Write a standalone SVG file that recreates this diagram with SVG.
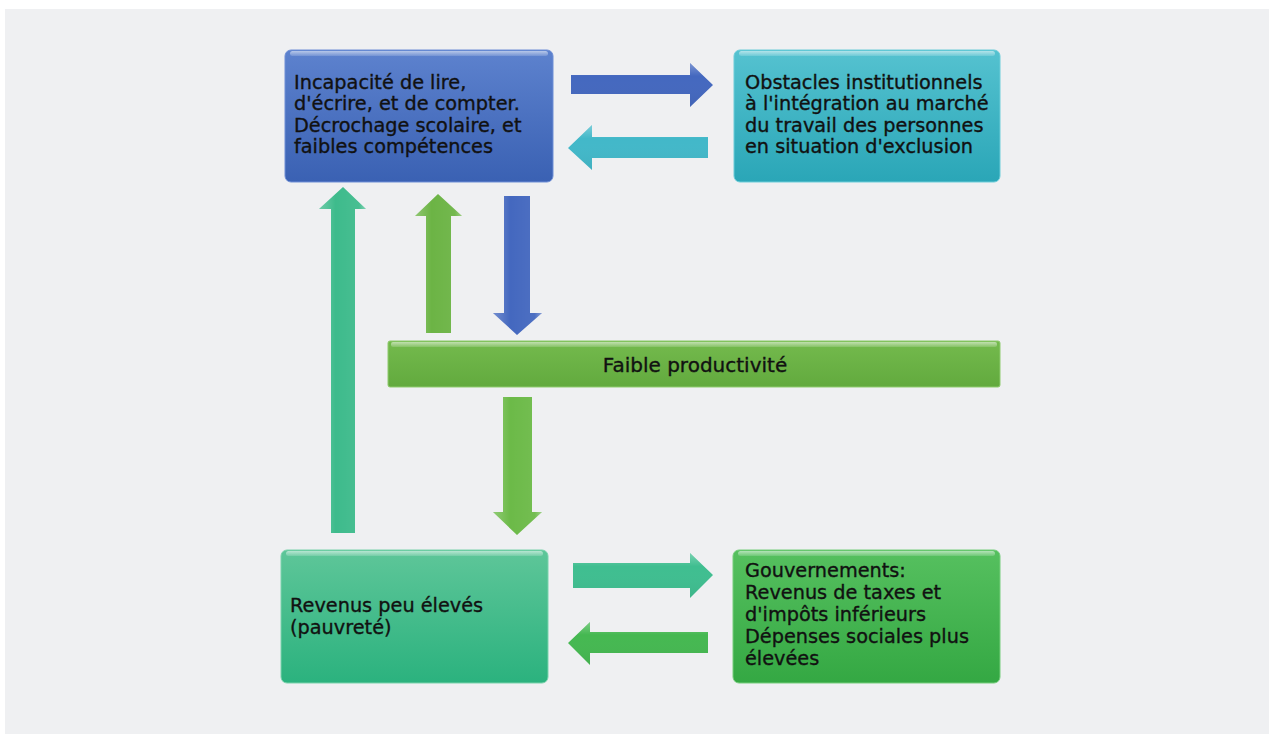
<svg xmlns="http://www.w3.org/2000/svg" width="1269" height="734" viewBox="0 0 1269 734">
<defs>
<linearGradient id="gBlue" x1="0" y1="0" x2="0" y2="1"><stop offset="0" stop-color="#5d82ce"/><stop offset="1" stop-color="#3a61b3"/></linearGradient>
<linearGradient id="gTeal" x1="0" y1="0" x2="0" y2="1"><stop offset="0" stop-color="#55c2d0"/><stop offset="1" stop-color="#2aa6b7"/></linearGradient>
<linearGradient id="gBar" x1="0" y1="0" x2="0" y2="1"><stop offset="0" stop-color="#74ba4d"/><stop offset="1" stop-color="#62aa3e"/></linearGradient>
<linearGradient id="gRev" x1="0" y1="0" x2="0" y2="1"><stop offset="0" stop-color="#5ec699"/><stop offset="1" stop-color="#2bb27e"/></linearGradient>
<linearGradient id="gGov" x1="0" y1="0" x2="0" y2="1"><stop offset="0" stop-color="#56c05f"/><stop offset="1" stop-color="#34a843"/></linearGradient>
<linearGradient id="hl" x1="0" y1="0" x2="0" y2="1"><stop offset="0" stop-color="#ffffff" stop-opacity="0.55"/><stop offset="1" stop-color="#ffffff" stop-opacity="0.15"/></linearGradient>
<linearGradient id="shadeV" x1="0" y1="0" x2="1" y2="0"><stop offset="0" stop-color="#ffffff" stop-opacity="0.25"/><stop offset="0.35" stop-color="#ffffff" stop-opacity="0"/><stop offset="0.85" stop-color="#ffffff" stop-opacity="0.05"/><stop offset="1" stop-color="#ffffff" stop-opacity="0.35"/></linearGradient>
<linearGradient id="shadeH" x1="0" y1="0" x2="0" y2="1"><stop offset="0" stop-color="#ffffff" stop-opacity="0.3"/><stop offset="0.3" stop-color="#ffffff" stop-opacity="0"/><stop offset="1" stop-color="#000000" stop-opacity="0.05"/></linearGradient>
</defs>
<style>
.t{font-family:"DejaVu Sans",Verdana,sans-serif;font-size:19.3px;fill:#111;stroke:#111;stroke-width:0.35px;}
.hl{fill:url(#hl);}
</style>
<rect x="0" y="0" width="1269" height="734" fill="#ffffff"/>
<rect x="5" y="9" width="1264" height="725" fill="#eff0f2"/>

<g id="connectors">
<polygon points="571,75 690,75 690,63 713,85 690,107 690,94 571,94" fill="#4468bf"/>
<polygon points="571,75 690,75 690,63 713,85 690,107 690,94 571,94" fill="url(#shadeH)"/>
<polygon points="708,137 592,137 592,125 568,148 592,170 592,158 708,158" fill="#42b8c9"/>
<polygon points="708,137 592,137 592,125 568,148 592,170 592,158 708,158" fill="url(#shadeH)"/>
<polygon points="331,533 331,209 319,209 343,187 366,209 355,209 355,533" fill="#3ebb8c"/>
<polygon points="331,533 331,209 319,209 343,187 366,209 355,209 355,533" fill="url(#shadeV)"/>
<polygon points="426,333 426,216 415,216 438,194 462,216 451,216 451,333" fill="#6cb445"/>
<polygon points="426,333 426,216 415,216 438,194 462,216 451,216 451,333" fill="url(#shadeV)"/>
<polygon points="504,196 530,196 530,313 542,313 517,335 493,313 504,313" fill="#4468bf"/>
<polygon points="504,196 530,196 530,313 542,313 517,335 493,313 504,313" fill="url(#shadeV)"/>
<polygon points="503,397 532,397 532,512 542,512 517,535 493,512 503,512" fill="#6cba48"/>
<polygon points="503,397 532,397 532,512 542,512 517,535 493,512 503,512" fill="url(#shadeV)"/>
<polygon points="573,563 690,563 690,553 713,575 690,598 690,588 573,588" fill="#3fbe90"/>
<polygon points="573,563 690,563 690,553 713,575 690,598 690,588 573,588" fill="url(#shadeH)"/>
<polygon points="708,632 590,632 590,622 568,643 590,665 590,653 708,653" fill="#45b851"/>
<polygon points="708,632 590,632 590,622 568,643 590,665 590,653 708,653" fill="url(#shadeH)"/>
</g>

<g id="node-incapacite">
<rect x="285" y="50" width="268" height="132" rx="6" fill="url(#gBlue)" stroke="#6f8fd6" stroke-width="1"/>
<rect x="290" y="51" width="258" height="5" rx="2.5" class="hl"/>
<text class="t" x="294" y="89">Incapacité de lire,</text>
<text class="t" x="294" y="110">d'écrire, et de compter.</text>
<text class="t" x="294" y="132">Décrochage scolaire, et</text>
<text class="t" x="294" y="153">faibles compétences</text>
</g>

<g id="node-obstacles">
<rect x="734" y="50" width="266" height="132" rx="6" fill="url(#gTeal)" stroke="#6ccdd9" stroke-width="1"/>
<rect x="739" y="51" width="256" height="5" rx="2.5" class="hl"/>
<text class="t" x="745" y="89">Obstacles institutionnels</text>
<text class="t" x="745" y="110">à l'intégration au marché</text>
<text class="t" x="745" y="132">du travail des personnes</text>
<text class="t" x="745" y="153">en situation d'exclusion</text>
</g>

<g id="node-productivite">
<rect x="388" y="341" width="612" height="46" rx="2" fill="url(#gBar)" stroke="#8fcb6e" stroke-width="1"/>
<rect x="391" y="342" width="606" height="5" rx="2" class="hl"/>
<text class="t" x="695" y="372" text-anchor="middle" style="font-size:20px">Faible productivité</text>
</g>

<g id="node-revenus">
<rect x="281" y="550" width="267" height="133" rx="6" fill="url(#gRev)" stroke="#7ad3ac" stroke-width="1"/>
<rect x="286" y="551" width="257" height="5" rx="2.5" class="hl"/>
<text class="t" x="290" y="612">Revenus peu élevés</text>
<text class="t" x="290" y="634">(pauvreté)</text>
</g>

<g id="node-gouvernements">
<rect x="733" y="550" width="267" height="133" rx="6" fill="url(#gGov)" stroke="#76ce7d" stroke-width="1"/>
<rect x="738" y="551" width="257" height="5" rx="2.5" class="hl"/>
<text class="t" x="745" y="577">Gouvernements:</text>
<text class="t" x="745" y="599">Revenus de taxes et</text>
<text class="t" x="745" y="621">d'impôts inférieurs</text>
<text class="t" x="745" y="643">Dépenses sociales plus</text>
<text class="t" x="745" y="665">élevées</text>
</g>
</svg>
